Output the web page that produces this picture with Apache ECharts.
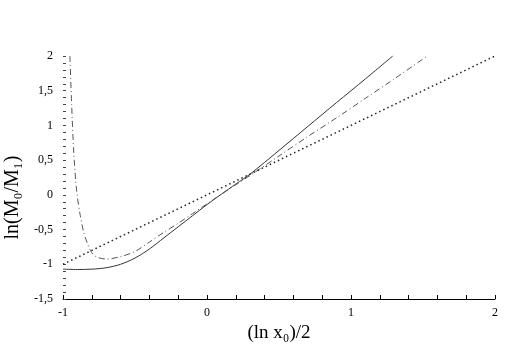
<!DOCTYPE html>
<html>
<head>
<meta charset="utf-8">
<script src="https://cdn.jsdelivr.net/npm/echarts@6/dist/echarts.min.js"></script>
<style>
  html, body { margin: 0; padding: 0; background: #fff; }
  #chart { width: 510px; height: 355px; }
</style>
</head>
<body>
<div id="chart"></div>
<script>
// values
let solidX = [-1, -0.9, -0.8, -0.7, -0.6, -0.5, -0.4, -0.3, -0.2, -0.1, 0, 0.1, 0.2, 0.3, 0.5, 0.7, 0.9, 1.1, 1.29]
let solidY = [-1.07, -1.075, -1.07, -1.05, -1.0, -0.91, -0.78, -0.62, -0.46, -0.3, -0.14, 0.01, 0.155, 0.3, 0.64, 0.985, 1.33, 1.67, 2.0]

let dashX = [-0.952, -0.94, -0.925, -0.905, -0.88, -0.855, -0.83, -0.81, -0.79, -0.76, -0.7, -0.6, -0.5, -0.4, -0.3, -0.2, -0.1, 0, 0.1, 0.2, 0.3, 0.5, 0.7, 0.9, 1.1, 1.3, 1.53]
let dashY = [2.0, 1.3, 0.6, 0.05, -0.3, -0.55, -0.7, -0.8, -0.86, -0.9, -0.925, -0.89, -0.815, -0.68, -0.54, -0.41, -0.27, -0.13, 0.01, 0.145, 0.28, 0.56, 0.84, 1.11, 1.39, 1.67, 2.0]

let dotX = [-1, 2]
let dotY = [-1, 2]

function pairs(xs, ys) {
    return xs.map((x, i) => [x, ys[i]])
}

let fmt = v => String(v).replace('.', ',')

let myChart = echarts.init(document.getElementById('chart'))
let option = {
    animation: false,
    grid: { left: 63, right: 15, top: 56, bottom: 56, outerBoundsMode: 'none', containLabel: false },
    textStyle: { fontFamily: 'Liberation Serif' },
    xAxis: {
        type: 'value',
        min: -1,
        max: 2,
        interval: 1,
        name: '(ln x₀)/2',
        nameLocation: 'middle',
        nameGap: 24,
        nameTextStyle: { fontSize: 19, color: '#000', fontFamily: 'Liberation Serif' },
        axisLine: { onZero: false, lineStyle: { color: '#000', width: 1 } },
        axisTick: { inside: true, length: 4, lineStyle: { color: '#000' } },
        minorTick: { show: true, splitNumber: 5, length: 4, lineStyle: { color: '#000' } },
        splitLine: { show: false },
        axisLabel: { color: '#000', fontSize: 12, margin: 8, formatter: fmt }
    },
    yAxis: {
        type: 'value',
        min: -1.5,
        max: 2,
        interval: 0.5,
        name: 'ln(M₀/M₁)',
        nameLocation: 'middle',
        nameGap: 22,
        nameTextStyle: { fontSize: 20, color: '#000', fontFamily: 'Liberation Serif', padding: [0, 40, 0, 0] },
        axisLine: { show: false, onZero: false },
        axisTick: { inside: true, length: 3, lineStyle: { color: '#444' } },
        minorTick: { show: true, splitNumber: 5, length: 3, lineStyle: { color: '#444' } },
        splitLine: { show: false },
        axisLabel: { color: '#000', fontSize: 12, margin: 10, formatter: fmt }
    },
    series: [
        {
            type: 'line',
            data: pairs(solidX, solidY),
            showSymbol: false,
            smooth: 0.3,
            lineStyle: { color: '#333', width: 1 }
        },
        {
            type: 'line',
            data: pairs(dashX, dashY),
            showSymbol: false,
            smooth: 0.3,
            lineStyle: { color: '#555', width: 1, type: [6, 3, 1, 3] }
        },
        {
            type: 'line',
            data: pairs(dotX, dotY),
            showSymbol: false,
            lineStyle: { color: '#222', width: 1.5, type: [1.5, 3] }
        }
    ]
}

myChart.setOption(option)
</script>
</body>
</html>
